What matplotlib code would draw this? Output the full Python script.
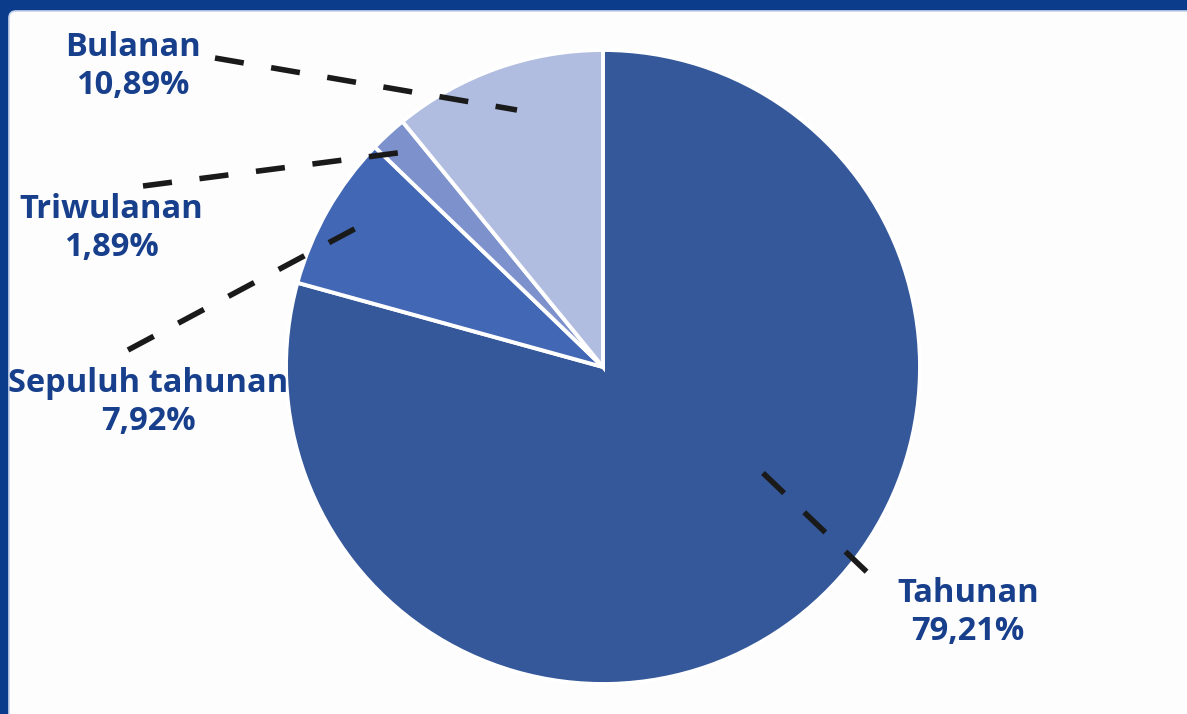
import matplotlib
matplotlib.use("Agg")
import matplotlib.pyplot as plt
from matplotlib.patches import FancyBboxPatch

# ---- data ----
categories = ["Tahunan", "Sepuluh tahunan", "Triwulanan", "Bulanan"]
shares = [79.21, 7.92, 1.89, 10.89]
share_labels = ["79,21%", "7,92%", "1,89%", "10,89%"]
colors = ["#35589a", "#4267b5", "#7d91cd", "#b1bde0"]

W, H = 1187, 714
TEXT_C = "#173f8c"
BORDER_C = "#0b3c8c"

plt.rcParams["lines.scale_dashes"] = False

fig = plt.figure(figsize=(W / 100, H / 100), dpi=100, facecolor=BORDER_C)
ax = fig.add_axes([0, 0, 1, 1])
ax.set_facecolor(BORDER_C)


def P(x, y):
    """pixel (from top-left) -> data coords"""
    return x, H - y


# white panel
panel = FancyBboxPatch((9, -40), W + 40, H + 40 - 11,
                       boxstyle="round,pad=0,rounding_size=7",
                       facecolor="#fdfdfd", edgecolor="#c9d5ea", linewidth=1.2,
                       zorder=0)
ax.add_patch(panel)

cx, cy = P(603, 367)
wedges, _ = ax.pie(shares, colors=colors, startangle=90, counterclock=False,
                   radius=317, center=(cx, cy),
                   wedgeprops=dict(edgecolor="white", linewidth=2.8),
                   frame=True)
for w in wedges:
    w.set_zorder(2)

# leader lines (layout positions in pixels: label end -> slice end)
leaders = {
    "Bulanan": ((215, 58), (517, 110)),
    "Triwulanan": ((143, 186), (405, 152)),
    "Sepuluh tahunan": ((128, 350), (362, 225)),
    "Tahunan": ((763, 473), (870, 575)),
}
label_pos = {
    "Bulanan": (133, 67),
    "Triwulanan": (111, 229),
    "Sepuluh tahunan": (148, 402),
    "Tahunan": (968, 612),
}

for cat, lab in zip(categories, share_labels):
    (x0, y0), (x1, y1) = leaders[cat]
    X0, Y0 = P(x0, y0)
    X1, Y1 = P(x1, y1)
    ax.plot([X0, X1], [Y0, Y1], color="#1a1a1a", linewidth=4.0,
            linestyle=(0, (21, 20)), solid_capstyle="butt",
            dash_capstyle="butt", zorder=3)
    tx, ty = P(*label_pos[cat])
    ax.text(tx, ty, f"{cat}\n{lab}", ha="center", va="center",
            multialignment="center", fontsize=23.5, fontweight="bold",
            family=["Open Sans", "DejaVu Sans"], color=TEXT_C,
            linespacing=1.2, zorder=4)

ax.set_xlim(0, W)
ax.set_ylim(0, H)
ax.set_aspect("auto")
ax.axis("off")

fig.savefig("out.png", dpi=100, facecolor=BORDER_C)
